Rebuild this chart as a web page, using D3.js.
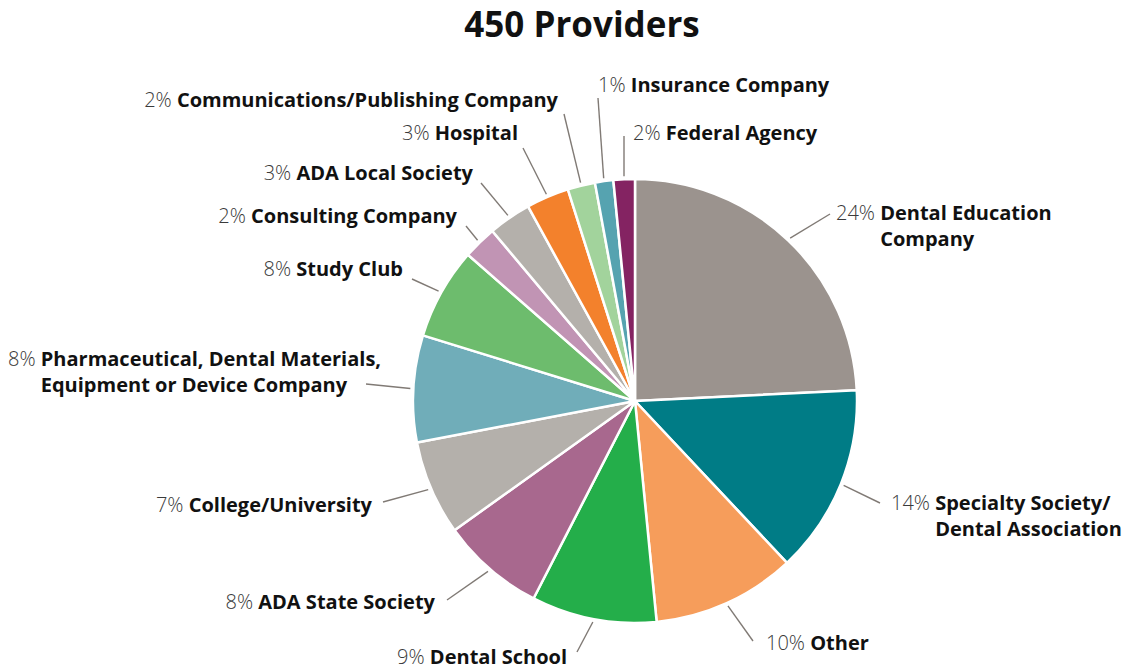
<!DOCTYPE html>
<html>
<head>
<meta charset="utf-8">
<script src="https://cdn.jsdelivr.net/npm/d3@7"></script>
<style>
  body { margin: 0; background: #fff; }
  text { font-family: "Open Sans", "Noto Sans", sans-serif; }
</style>
</head>
<body>
<svg id="chart" width="1133" height="672"></svg>
<script>
// provider counts (out of ~450)
let categories = ["Dental Education Company", "Specialty Society/Dental Association", "Other",
  "Dental School", "ADA State Society", "College/University",
  "Pharmaceutical, Dental Materials, Equipment or Device Company", "Study Club",
  "Consulting Company", "ADA Local Society", "Hospital",
  "Communications/Publishing Company", "Insurance Company", "Federal Agency"];
let counts = [109, 62, 47, 41, 34, 31, 35, 30, 11, 14, 14, 9, 6, 7];
let pctLabels = ["24%", "14%", "10%", "9%", "8%", "7%", "8%", "8%", "2%", "3%", "3%", "2%", "1%", "2%"];
let nameLines = [["Dental Education", "Company"], ["Specialty Society/", "Dental Association"], ["Other"],
  ["Dental School"], ["ADA State Society"], ["College/University"],
  ["Pharmaceutical, Dental Materials,", "Equipment or Device Company"], ["Study Club"],
  ["Consulting Company"], ["ADA Local Society"], ["Hospital"],
  ["Communications/Publishing Company"], ["Insurance Company"], ["Federal Agency"]];
let colors = ["#9b938e", "#007c86", "#f69d5b", "#24ae4a", "#a8688e", "#b4b0ab", "#70adb9",
  "#6dbc6d", "#c194b4", "#b4b0ab", "#f3812c", "#a2d39c", "#56a3b0", "#842362"];

// label layout: text x, y, anchor, and the outer end of the leader line
let labelLayout = [
  {x: 836, y: 220, anchor: "start", lx: 830, ly: 214},
  {x: 891, y: 510, anchor: "start", lx: 880, ly: 503},
  {x: 766, y: 650, anchor: "start", lx: 753, ly: 641},
  {x: 567, y: 664, anchor: "end", lx: 577, ly: 652},
  {x: 435, y: 609, anchor: "end", lx: 447, ly: 600},
  {x: 372, y: 512, anchor: "end", lx: 383, ly: 502},
  {x: 8, y: 366, anchor: "start", lx: 366, ly: 384},
  {x: 403, y: 276, anchor: "end", lx: 412, ly: 279},
  {x: 457, y: 223, anchor: "end", lx: 466, ly: 226},
  {x: 473, y: 180, anchor: "end", lx: 481, ly: 183},
  {x: 518, y: 140, anchor: "end", lx: 523, ly: 148},
  {x: 558, y: 107, anchor: "end", lx: 564, ly: 114},
  {x: 598, y: 92, anchor: "start", lx: 598, ly: 98},
  {x: 633, y: 140, anchor: "start", lx: 624, ly: 136}
];

let width = 1133, height = 672;
let cx = 635, cy = 401, radius = 222;

let svg = d3.select("#chart");

svg.append("text")
  .attr("x", 582)
  .attr("y", 37)
  .attr("text-anchor", "middle")
  .attr("font-size", 35)
  .attr("font-weight", 700)
  .attr("fill", "#111")
  .text("450 Providers");

let data = categories.map((c, i) => ({name: c, value: counts[i], i: i}));

let pie = d3.pie().sort(null).value(d => d.value);
let arcs = pie(data);

let arc = d3.arc().innerRadius(0).outerRadius(radius);

let g = svg.append("g").attr("transform", `translate(${cx},${cy})`);

g.selectAll("path")
  .data(arcs)
  .enter()
  .append("path")
  .attr("d", arc)
  .attr("fill", d => colors[d.data.i])
  .attr("stroke", "#fff")
  .attr("stroke-width", 2.5)
  .attr("stroke-linejoin", "round");

// leader lines
svg.append("g").selectAll("line")
  .data(arcs)
  .enter()
  .append("line")
  .attr("x1", d => cx + Math.sin((d.startAngle + d.endAngle) / 2) * (radius + 3))
  .attr("y1", d => cy - Math.cos((d.startAngle + d.endAngle) / 2) * (radius + 3))
  .attr("x2", d => labelLayout[d.data.i].lx)
  .attr("y2", d => labelLayout[d.data.i].ly)
  .attr("stroke", "#807a75")
  .attr("stroke-width", 1.4);

// labels
let labels = svg.append("g");
arcs.forEach(d => {
  let i = d.data.i, L = labelLayout[i];
  let t = labels.append("text")
    .attr("x", L.x)
    .attr("y", L.y)
    .attr("text-anchor", L.anchor)
    .attr("font-size", 20);
  let p = t.append("tspan")
    .attr("font-weight", 300)
    .attr("fill", "#3a3a3a")
    .text(pctLabels[i] + " ");
  t.append("tspan")
    .attr("font-weight", 700)
    .attr("fill", "#111")
    .text(nameLines[i][0]);
  if (nameLines[i].length > 1) {
    let pw = p.node().getComputedTextLength();
    labels.append("text")
      .attr("x", L.x + pw)
      .attr("y", L.y + 26)
      .attr("font-size", 20)
      .attr("font-weight", 700)
      .attr("fill", "#111")
      .text(nameLines[i][1]);
  }
});
</script>
</body>
</html>
